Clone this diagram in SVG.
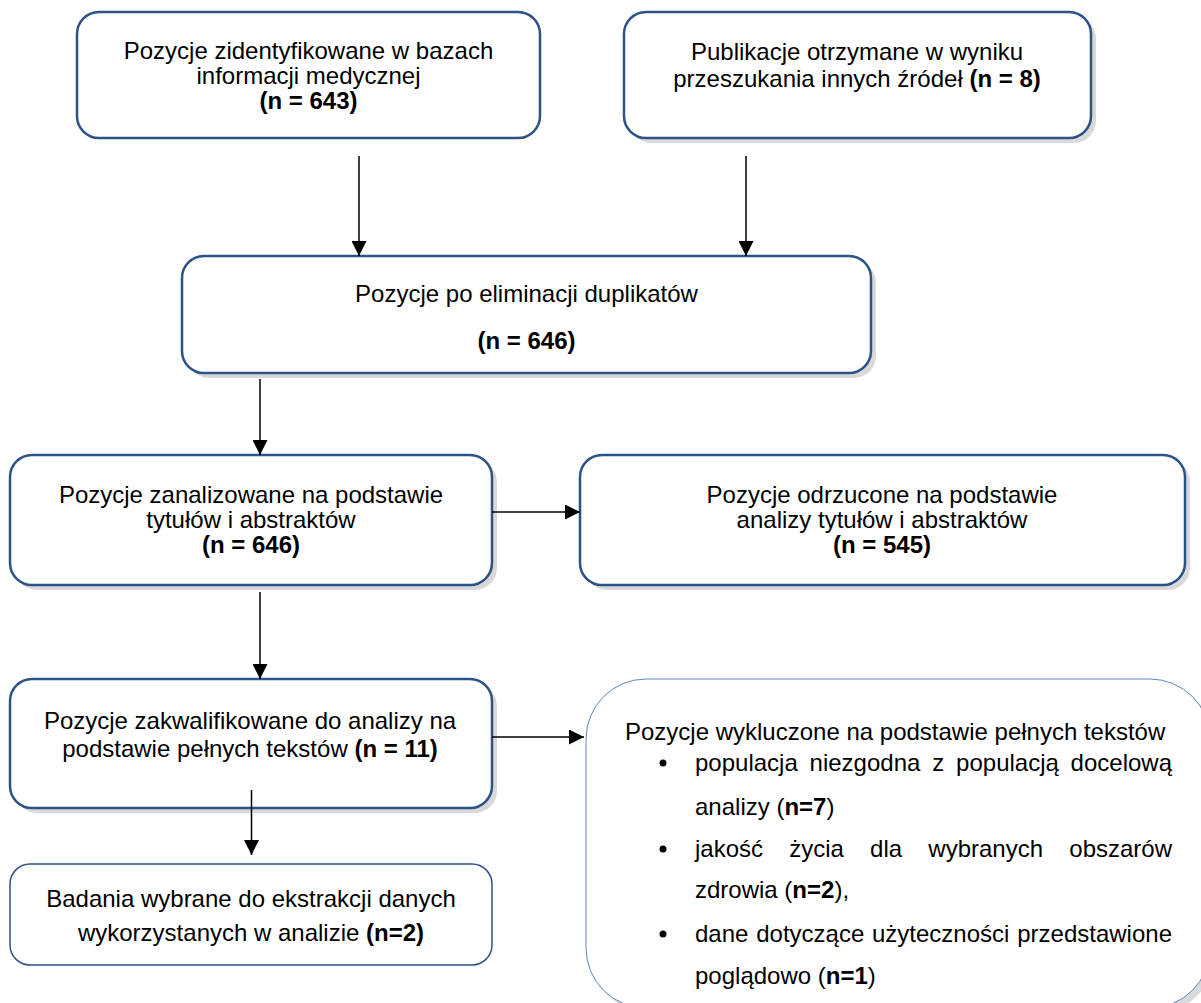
<svg xmlns="http://www.w3.org/2000/svg" width="1201" height="1003" viewBox="0 0 1201 1003">
<style>
text{font-family:"Liberation Sans",Arial,sans-serif;font-size:24px;fill:#000}
.c{text-anchor:middle}
.b{font-weight:bold}
.box{fill:#fff;stroke:#2c5286;stroke-width:2.5}
.thin{fill:#fff;stroke:#2c5286;stroke-width:1.5}
.lt{fill:#fff;stroke:#5b86bd;stroke-width:1}
.sh{fill:#d9d9d9}
.con{stroke:#000;stroke-width:1.5;fill:none;marker-end:url(#ah)}
</style>
<defs>
<marker id="ah" markerUnits="userSpaceOnUse" markerWidth="15" markerHeight="15" refX="15" refY="7.5" orient="auto">
<path d="M0,0 L15,7.5 L0,15 z" fill="#000"/>
</marker>
</defs>
<rect width="1201" height="1003" fill="#fff"/>
<g id="n1">
<rect class="box" x="77" y="12" width="463" height="126" rx="22"/>
<text class="c" x="308.5" y="59">Pozycje zidentyfikowane w bazach</text>
<text class="c" x="308.5" y="84">informacji medycznej</text>
<text class="c b" x="308.5" y="109">(n = 643)</text>
</g>
<g id="n2">
<rect class="sh" x="629" y="17" width="467" height="126" rx="22"/>
<rect class="box" x="624" y="12" width="467" height="126" rx="22"/>
<text class="c" x="857" y="60">Publikacje otrzymane w wyniku</text>
<text class="c" x="857" y="87">przeszukania innych źródeł <tspan class="b">(n = 8)</tspan></text>
</g>
<g id="n3">
<rect class="sh" x="187" y="261" width="689" height="117" rx="22"/>
<rect class="box" x="182" y="256" width="689" height="117" rx="22"/>
<text class="c" x="526.5" y="302">Pozycje po eliminacji duplikatów</text>
<text class="c b" x="526.5" y="349">(n = 646)</text>
</g>
<g id="n4">
<rect class="sh" x="15" y="460" width="482" height="130" rx="22"/>
<rect class="box" x="10" y="455" width="482" height="130" rx="22"/>
<text class="c" x="251" y="503">Pozycje zanalizowane na podstawie</text>
<text class="c" x="251" y="528">tytułów i abstraktów</text>
<text class="c b" x="251" y="553">(n = 646)</text>
</g>
<g id="n5">
<rect class="sh" x="585" y="460" width="605" height="130" rx="22"/>
<rect class="box" x="580" y="455" width="605" height="130" rx="22"/>
<text class="c" x="882" y="503">Pozycje odrzucone na podstawie</text>
<text class="c" x="882" y="528">analizy tytułów i abstraktów</text>
<text class="c b" x="882" y="553">(n = 545)</text>
</g>
<g id="n6">
<rect class="sh" x="15" y="684" width="482" height="129" rx="22"/>
<rect class="box" x="10" y="679" width="482" height="129" rx="22"/>
<text class="c" x="250" y="729">Pozycje zakwalifikowane do analizy na</text>
<text class="c" x="250" y="757">podstawie pełnych tekstów <tspan class="b">(n = 11)</tspan></text>
</g>
<g id="n7">
<rect class="thin" x="10" y="864" width="482" height="101" rx="20"/>
<text class="c" x="251" y="907">Badania wybrane do ekstrakcji danych</text>
<text class="c" x="251" y="941">wykorzystanych w analizie <tspan class="b">(n=2)</tspan></text>
</g>
<g id="n8">
<rect class="sh" x="591" y="684" width="624" height="329" rx="60"/>
<rect class="lt" x="586" y="679" width="624" height="329" rx="60"/>
<text x="625" y="740">Pozycje wykluczone na podstawie pełnych tekstów</text>
<circle cx="663" cy="763" r="3.5" fill="#000"/>
<text y="771"><tspan x="695">populacja</tspan><tspan x="809.6">niezgodna</tspan><tspan x="932.2">z</tspan><tspan x="956.1">populacją</tspan></text>
<text x="1172" y="771" text-anchor="end">docelową</text>
<text x="695" y="815">analizy (<tspan class="b">n=7</tspan>)</text>
<circle cx="663" cy="849" r="3.5" fill="#000"/>
<text y="857"><tspan x="695">jakość</tspan><tspan x="789.2">życia</tspan><tspan x="870.1">dla</tspan><tspan x="928.3">wybranych</tspan></text>
<text x="1172" y="857" text-anchor="end">obszarów</text>
<text x="695" y="898">zdrowia (<tspan class="b">n=2</tspan>),</text>
<circle cx="663" cy="934" r="3.5" fill="#000"/>
<text y="942"><tspan x="695">dane</tspan><tspan x="756.2">dotyczące</tspan><tspan x="872">użyteczności</tspan></text>
<text x="1172" y="942" text-anchor="end">przedstawione</text>
<text x="695" y="984">poglądowo (<tspan class="b">n=1</tspan>)</text>
</g>
<g id="connectors">
<line class="con" x1="359" y1="156" x2="359" y2="256"/>
<line class="con" x1="746" y1="156" x2="746" y2="256"/>
<line class="con" x1="260" y1="379" x2="260" y2="455"/>
<line class="con" x1="260" y1="592" x2="260" y2="679"/>
<line class="con" x1="492" y1="512" x2="580" y2="512"/>
<line class="con" x1="492" y1="737" x2="584" y2="737"/>
<line class="con" x1="251.5" y1="790" x2="251.5" y2="855"/>
</g>
</svg>
